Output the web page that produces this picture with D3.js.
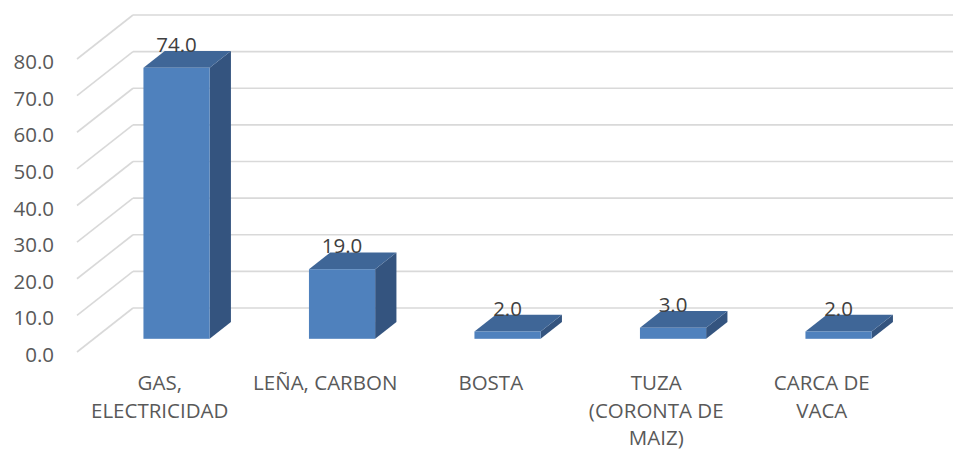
<!DOCTYPE html>
<html><head><meta charset="utf-8">
<script src="https://cdn.jsdelivr.net/npm/d3@7"></script>
<style>body{margin:0;background:#fff}svg{display:block}</style>
</head><body>
<script>
const categories = ["GAS,\nELECTRICIDAD", "LEÑA, CARBON", "BOSTA", "TUZA\n(CORONTA DE\nMAIZ)", "CARCA DE\nVACA"];
const values = [74.0, 19.0, 2.0, 3.0, 2.0];
const yTicks = [0, 10, 20, 30, 40, 50, 60, 70, 80];

const W = 953, H = 451;
const svg = d3.select("body").append("svg").attr("width", W).attr("height", H);

const x0 = 77, band = 165.5;
const depth = {dx: 56, dy: -44};
const x = d3.scaleBand().domain(categories).range([x0, x0 + band * categories.length]).paddingInner(0).paddingOuter(0);
const y = d3.scaleLinear().domain([0, 80]).range([352, 59]);
const fmt = d3.format(".1f");
const FS = 20.5;

const grid = svg.append("g");
grid.selectAll("line.diag").data(yTicks).join("line")
  .attr("x1", x0).attr("y1", d => y(d))
  .attr("x2", x0 + depth.dx).attr("y2", d => y(d) + depth.dy)
  .attr("stroke", "#d9d9d9").attr("stroke-width", 1.6);
grid.selectAll("line.back").data(yTicks).join("line")
  .attr("x1", x0 + depth.dx).attr("y1", d => y(d) + depth.dy)
  .attr("x2", W + 10).attr("y2", d => y(d) + depth.dy)
  .attr("stroke", "#d9d9d9").attr("stroke-width", 1.6);

svg.append("g").selectAll("text").data(yTicks).join("text")
  .attr("x", 54).attr("y", d => y(d) + 10)
  .attr("text-anchor", "end")
  .attr("font-family", "'Open Sans', sans-serif").attr("font-size", FS)
  .attr("fill", "#595959")
  .text(d => fmt(d));

const d1 = 0.3, d2 = 0.68;
const bw = band * 0.4;
const bdx = depth.dx * (d2 - d1), bdy = depth.dy * (d2 - d1);
const rows = values.map((v, i) => ({v, c: categories[i]}));
function geo(d) {
  const cx = x(d.c) + band / 2;
  const left = cx - bw / 2 + depth.dx * d1;
  const right = left + bw;
  const base = y(0) + depth.dy * d1;
  const top = base - (y(0) - y(d.v));
  return {left, right, base, top};
}
const bars = svg.append("g").selectAll("g").data(rows).join("g");
bars.append("path").attr("fill", "#34547f").attr("d", d => {
  const g = geo(d);
  return `M${g.right},${g.base}L${g.right + bdx},${g.base + bdy}L${g.right + bdx},${g.top + bdy}L${g.right},${g.top}Z`;
});
bars.append("path").attr("fill", "#3f6697").attr("d", d => {
  const g = geo(d);
  return `M${g.left},${g.top}L${g.left + bdx},${g.top + bdy}L${g.right + bdx},${g.top + bdy}L${g.right},${g.top}Z`;
});
bars.append("rect").attr("fill", "#4f81bd")
  .attr("x", d => geo(d).left).attr("y", d => geo(d).top)
  .attr("width", bw).attr("height", d => geo(d).base - geo(d).top);

svg.append("g").selectAll("text").data(rows).join("text")
  .attr("x", d => geo(d).left + bw / 2)
  .attr("y", d => geo(d).top + bdy + 1)
  .attr("text-anchor", "middle")
  .attr("font-family", "'Open Sans', sans-serif").attr("font-size", FS)
  .attr("fill", "#404040")
  .text(d => fmt(d.v));

const cat = svg.append("g").selectAll("text").data(categories).join("text")
  .attr("text-anchor", "middle")
  .attr("font-family", "'Open Sans', sans-serif").attr("font-size", FS)
  .attr("fill", "#595959");
cat.each(function(d) {
  const t = d3.select(this);
  d.split("\n").forEach((line, i) => {
    t.append("tspan").attr("x", x(d) + band / 2).attr("y", 390 + i * 27.5).text(line);
  });
});
</script>
</body></html>
